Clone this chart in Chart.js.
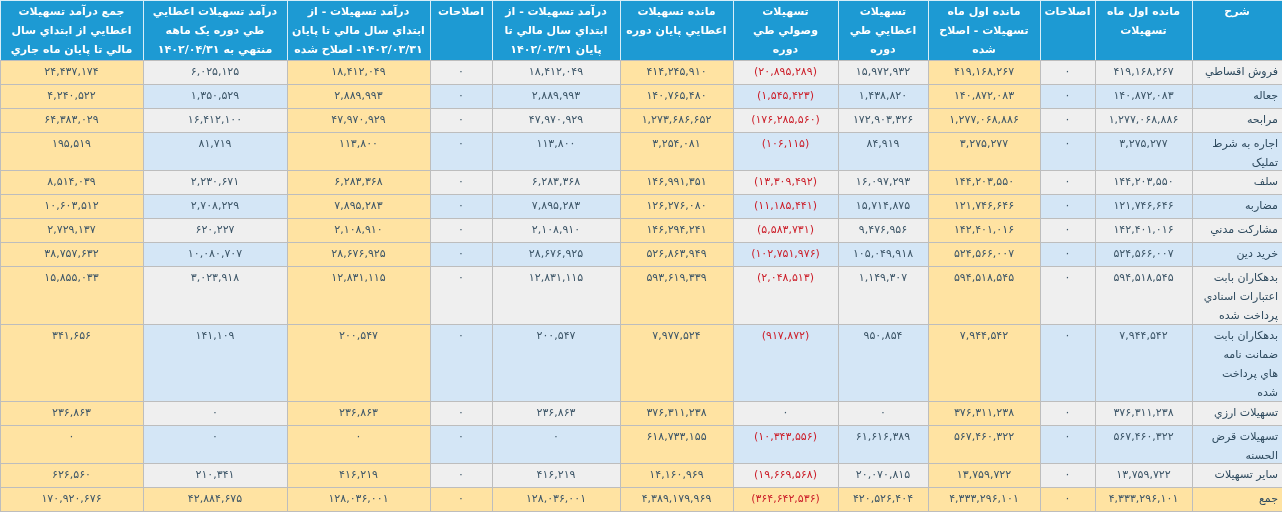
<!DOCTYPE html>
<html lang="fa">
<head>
<meta charset="UTF-8">
<title>تسهیلات</title>
<script src="https://cdn.jsdelivr.net/npm/chart.js"></script>
<style>
  body { margin: 0; background: #fff; }
  #wrap { width: 1282px; height: 518px; }
</style>
</head>
<body>
<div id="wrap"><canvas id="tbl"></canvas></div>
<script>
// column headers, right to left
const headers = [
  ['شرح'],
  ['مانده اول ماه', 'تسهيلات'],
  ['اصلاحات'],
  ['مانده اول ماه', 'تسهيلات - اصلاح', 'شده'],
  ['تسهيلات', 'اعطايي طي', 'دوره'],
  ['تسهيلات', 'وصولي طي', 'دوره'],
  ['مانده تسهيلات', 'اعطايي پايان دوره'],
  ['درآمد تسهيلات - از', 'ابتداي سال مالي تا', 'پايان ۱۴۰۲/۰۳/۳۱'],
  ['اصلاحات'],
  ['درآمد تسهيلات - از', 'ابتداي سال مالي تا پايان', '۱۴۰۲/۰۳/۳۱- اصلاح شده'],
  ['درآمد تسهيلات اعطايي', 'طي دوره يک ماهه', 'منتهي به ۱۴۰۲/۰۴/۳۱'],
  ['جمع درآمد تسهيلات', 'اعطايي از ابتداي سال', 'مالي تا پايان ماه جاري']
];

// row labels (wrapped as in the source)
const rowLabels = [
  ['فروش اقساطي'],
  ['جعاله'],
  ['مرابحه'],
  ['اجاره به شرط', 'تمليک'],
  ['سلف'],
  ['مضاربه'],
  ['مشارکت مدني'],
  ['خريد دين'],
  ['بدهکاران بابت', 'اعتبارات اسنادي', 'پرداخت شده'],
  ['بدهکاران بابت', 'ضمانت نامه', 'هاي پرداخت', 'شده'],
  ['تسهيلات ارزي'],
  ['تسهيلات قرض', 'الحسنه'],
  ['ساير تسهيلات'],
  ['جمع']
];

const openingBalance = [419168267, 140872083, 1277068886, 3275277, 144203550, 121746646, 142401016, 524566007, 594518545, 7944542, 376311238, 567460322, 13759722, 4333296101];
const openingAdj     = [0,0,0,0,0,0,0,0,0,0,0,0,0,0];
const openingFixed   = [419168267, 140872083, 1277068886, 3275277, 144203550, 121746646, 142401016, 524566007, 594518545, 7944542, 376311238, 567460322, 13759722, 4333296101];
const granted        = [15972932, 1438820, 172903326, 84919, 16097293, 15714875, 9476956, 105049918, 1149307, 950854, 0, 61616389, 20070815, 420526404];
const collected      = [-20895289, -1545423, -176285560, -106115, -13309492, -11185441, -5583731, -102751976, -2048513, -917872, 0, -10343556, -19669568, -364642536];
const closingBalance = [414245910, 140765480, 1273686652, 3254081, 146991351, 126276080, 146294241, 526863949, 593619339, 7977524, 376311238, 618733155, 14160969, 4389179969];
const incomeYtd      = [18412049, 2889993, 47970929, 113800, 6283368, 7895283, 2108910, 28676925, 12831115, 200547, 236863, 0, 416219, 128036001];
const incomeAdj      = [0,0,0,0,0,0,0,0,0,0,0,0,0,0];
const incomeYtdFixed = [18412049, 2889993, 47970929, 113800, 6283368, 7895283, 2108910, 28676925, 12831115, 200547, 236863, 0, 416219, 128036001];
const incomeMonth    = [6025125, 1350529, 16412100, 81719, 2230671, 2708229, 620227, 10080707, 3023918, 141109, 0, 0, 210341, 42884675];
const incomeTotal    = [24437174, 4240522, 64383029, 195519, 8514039, 10603512, 2729137, 38757632, 15855033, 341656, 236863, 0, 626560, 170920676];

const series = [openingBalance, openingAdj, openingFixed, granted, collected, closingBalance,
                incomeYtd, incomeAdj, incomeYtdFixed, incomeMonth, incomeTotal];

// layout: column widths right to left, row heights
const colWidths = [90, 97, 55, 112, 90, 105, 113, 128, 62, 143, 144, 143];
const headerHeight = 60;
const lineHeights = { 1: 24, 2: 38, 3: 58, 4: 77 };
const orangeCols = [3, 6, 9, 11];

const faDigits = '۰۱۲۳۴۵۶۷۸۹';
function fa(n) {
  const s = Math.abs(n).toLocaleString('en-US').replace(/\d/g, d => faDigits[d]);
  return n < 0 ? '(' + s + ')' : s;
}

const tablePlugin = {
  id: 'tablePlugin',
  afterDraw(chart) {
    const { ctx, scales: { x, y } } = chart;
    // column edges from the right
    const edges = [1282];
    colWidths.forEach(w => edges.push(edges[edges.length - 1] - w));
    const rowEdges = [0, headerHeight];
    rowLabels.forEach(l => rowEdges.push(rowEdges[rowEdges.length - 1] + lineHeights[l.length]));
    const lastRow = rowLabels.length - 1;

    ctx.save();
    ctx.textBaseline = 'middle';
    ctx.lineWidth = 1;
    // header
    for (let c = 0; c < headers.length; c++) {
      const x0 = x.getPixelForValue(edges[c + 1]), x1 = x.getPixelForValue(edges[c]);
      const y0 = y.getPixelForValue(0), y1 = y.getPixelForValue(headerHeight);
      ctx.fillStyle = '#1d9ad3';
      ctx.fillRect(x0, y0, x1 - x0, y1 - y0);
      ctx.strokeStyle = '#d8eef8';
      ctx.strokeRect(x0 + 0.5, y0 + 0.5, x1 - x0, y1 - y0);
      ctx.fillStyle = '#ffffff';
      ctx.font = 'bold 11px "DejaVu Sans"';
      ctx.textAlign = 'center';
      ctx.direction = 'rtl';
      headers[c].forEach((t, i) => ctx.fillText(t, (x0 + x1) / 2, y0 + 12 + i * 19));
    }
    // body
    for (let r = 0; r < rowLabels.length; r++) {
      const y0 = y.getPixelForValue(rowEdges[r + 1]), y1 = y.getPixelForValue(rowEdges[r + 2]);
      const rowBg = r % 2 === 0 ? '#efefef' : '#d4e6f6';
      for (let c = 0; c < headers.length; c++) {
        const x0 = x.getPixelForValue(edges[c + 1]), x1 = x.getPixelForValue(edges[c]);
        ctx.fillStyle = (r === lastRow || orangeCols.includes(c)) ? '#ffe3a2' : rowBg;
        ctx.fillRect(x0, y0, x1 - x0, y1 - y0);
        ctx.strokeStyle = '#bdbdbd';
        ctx.strokeRect(x0 + 0.5, y0 + 0.5, x1 - x0, y1 - y0);
        ctx.font = '11px "DejaVu Sans"';
        if (c === 0) {
          ctx.fillStyle = '#2e4a5e';
          ctx.textAlign = 'right';
          ctx.direction = 'rtl';
          rowLabels[r].forEach((t, i) => ctx.fillText(t, x1 - 4, y0 + 12 + i * 19));
        } else {
          const v = series[c - 1][r];
          ctx.fillStyle = v < 0 ? '#cc1f2a' : '#3d5668';
          ctx.textAlign = 'center';
          ctx.direction = 'ltr';
          ctx.fillText(fa(v), (x0 + x1) / 2, y0 + 12);
        }
      }
    }
    ctx.restore();
  }
};

new Chart(document.getElementById('tbl'), {
  type: 'scatter',
  data: { datasets: [{ data: [] }] },
  options: {
    responsive: true,
    maintainAspectRatio: false,
    animation: false,
    layout: { padding: 0 },
    plugins: { legend: { display: false }, tooltip: { enabled: false } },
    scales: {
      x: { type: 'linear', min: 0, max: 1282, offset: false, display: false },
      y: { type: 'linear', min: 0, max: 518, reverse: true, offset: false, display: false }
    }
  },
  plugins: [tablePlugin]
});
</script>
</body>
</html>
